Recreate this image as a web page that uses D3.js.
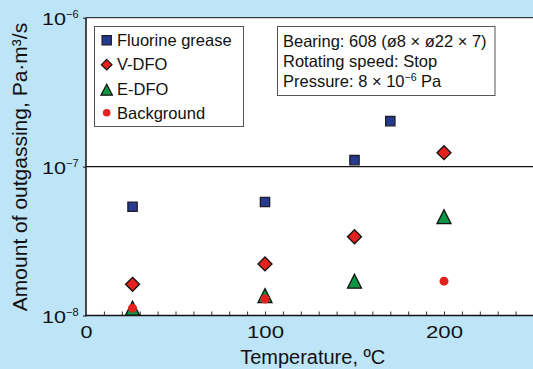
<!DOCTYPE html>
<html>
<head>
<meta charset="utf-8">
<script src="https://cdn.jsdelivr.net/npm/d3@7"></script>
<style>
  html, body { margin: 0; padding: 0; background: #bee4f8; }
  svg { display: block; font-family: "Liberation Sans", Arial, Helvetica, sans-serif; }
</style>
</head>
<body>
<svg id="chart" width="533" height="369"></svg>
<script>
// Outgassing measurements, Pa·m³/s, against temperature in °C
const greaseTemp = [26, 100, 150, 170];
const greaseVal  = [5.37e-8, 5.78e-8, 1.105e-7, 2.02e-7];
const vdfoTemp   = [26, 100, 150, 200];
const vdfoVal    = [1.62e-8, 2.22e-8, 3.38e-8, 1.24e-7];
const edfoTemp   = [26, 100, 150, 200];
const edfoVal    = [1.12e-8, 1.36e-8, 1.70e-8, 4.61e-8];
const bgTemp     = [26, 100, 200];
const bgVal      = [1.12e-8, 1.29e-8, 1.70e-8];

const seriesNames = ["Fluorine grease", "V-DFO", "E-DFO", "Background"];
const xTickLabels = [0, 100, 200];
const yTickValues = [1e-8, 1e-7, 1e-6];
const yTickExponents = ["\u22128", "\u22127", "\u22126"];
const infoLines = [
  "Bearing: 608 (\u00f88 \u00d7 \u00f822 \u00d7 7)",
  "Rotating speed: Stop",
  "Pressure: 8 \u00d7 10"
];

const svg = d3.select("#chart");
const W = 533, H = 369;
const plotLeft = 86, plotTop = 17.7, plotBottom = 315.5;

const x = d3.scaleLinear().domain([0, 250]).range([plotLeft, 533.5]);
const y = d3.scaleLog().domain([1e-8, 1e-6]).range([plotBottom, plotTop]);

const C = {
  bg: "#bee4f8",
  navy: "#263a8f",
  red: "#e3221f",
  green: "#0c9545",
  ink: "#111"
};

// plot area
svg.append("rect").attr("x", plotLeft).attr("y", plotTop)
  .attr("width", W - plotLeft).attr("height", plotBottom - plotTop).attr("fill", "#fff");

// top frame and the 10^-7 reference line
svg.append("line").attr("x1", plotLeft).attr("x2", W).attr("y1", y(1e-6)).attr("y2", y(1e-6))
  .attr("stroke", C.ink).attr("stroke-width", 1);
svg.append("line").attr("x1", plotLeft).attr("x2", W).attr("y1", y(1e-7)).attr("y2", y(1e-7))
  .attr("stroke", C.ink).attr("stroke-width", 1.2);

// x minor ticks (inside)
const xMinor = svg.append("g").attr("transform", `translate(0,${plotBottom})`)
  .call(d3.axisBottom(x).tickValues(d3.range(10, 251, 10)).tickSize(-4).tickSizeOuter(0).tickFormat(""));
xMinor.select(".domain").remove();
xMinor.selectAll(".tick line").attr("stroke", "#333").attr("stroke-width", 1);

// x labels
const xAxis = svg.append("g").attr("transform", `translate(0,${plotBottom})`)
  .call(d3.axisBottom(x).tickValues(xTickLabels).tickSize(0).tickPadding(0).tickFormat(d3.format("d")));
xAxis.select(".domain").remove();
xAxis.selectAll(".tick text")
  .attr("y", 22).attr("dy", null)
  .attr("font-size", 17).attr("fill", C.ink)
  .attr("font-family", "Liberation Sans, Arial, sans-serif")
  .each(function(d) {
    const t = d3.select(this);
    const len = String(d).length;
    t.attr("textLength", len === 1 ? 12 : 37).attr("lengthAdjust", "spacingAndGlyphs");
  });

// y axis with 10^n labels
const yAxis = svg.append("g").attr("transform", `translate(${plotLeft},0)`)
  .call(d3.axisLeft(y).tickValues(yTickValues).tickSize(3).tickSizeOuter(0).tickFormat(""));
yAxis.select(".domain").remove();
yAxis.selectAll(".tick line").attr("stroke", C.ink);
yAxis.selectAll(".tick").each(function(d) {
  const g = d3.select(this);
  g.append("text").attr("x", -44).attr("y", 6.5)
    .attr("font-size", 17).attr("fill", C.ink).attr("text-anchor", "start")
    .attr("textLength", 24).attr("lengthAdjust", "spacingAndGlyphs")
    .text("10");
  g.append("text").attr("x", -20).attr("y", 0)
    .attr("font-size", 11).attr("fill", C.ink).attr("text-anchor", "start")
    .text(yTickExponents[yTickValues.indexOf(d)]);
});

// axis lines
svg.append("line").attr("x1", plotLeft).attr("x2", plotLeft).attr("y1", plotTop).attr("y2", plotBottom + 0.7)
  .attr("stroke", C.ink).attr("stroke-width", 1.5);
svg.append("line").attr("x1", plotLeft).attr("x2", W).attr("y1", plotBottom).attr("y2", plotBottom)
  .attr("stroke", C.ink).attr("stroke-width", 1.5);

// axis titles
svg.append("text").attr("x", 312.7).attr("y", 364).attr("text-anchor", "middle")
  .attr("font-size", 20).attr("fill", C.ink).text("Temperature, \u00baC");
svg.append("text").attr("transform", "translate(27,167) rotate(-90)")
  .attr("text-anchor", "middle").attr("font-size", 21).attr("fill", C.ink)
  .text("Amount of outgassing, Pa\u00b7m\u00b3/s");

// marker shapes, centred on their bounding box
const squarePath = s => `M${-s/2},${-s/2}h${s}v${s}h${-s}Z`;
const diamondPath = r => `M0,${-r}L${r},0L0,${r}L${-r},0Z`;
const trianglePath = (w, h) => `M0,${-h/2}L${w/2},${h/2}L${-w/2},${h/2}Z`;

const pts = (t, v) => t.map((d, i) => ({ t: d, v: v[i] }));
const plot = svg.append("g");

plot.selectAll(".sq").data(pts(greaseTemp, greaseVal)).join("path")
  .attr("transform", d => `translate(${x(d.t)},${y(d.v)})`)
  .attr("d", squarePath(9.3)).attr("fill", C.navy).attr("stroke", "#1b1b2a").attr("stroke-width", 1.3);

plot.selectAll(".dm").data(pts(vdfoTemp, vdfoVal)).join("path")
  .attr("transform", d => `translate(${x(d.t)},${y(d.v)})`)
  .attr("d", diamondPath(7)).attr("fill", C.red).attr("stroke", "#111").attr("stroke-width", 1.3);

plot.selectAll(".tr").data(pts(edfoTemp, edfoVal)).join("path")
  .attr("transform", d => `translate(${x(d.t)},${y(d.v)})`)
  .attr("d", trianglePath(14, 14)).attr("fill", C.green).attr("stroke", "#111").attr("stroke-width", 1.3);

plot.selectAll(".ci").data(pts(bgTemp, bgVal)).join("circle")
  .attr("cx", d => x(d.t)).attr("cy", d => y(d.v)).attr("r", 4.5).attr("fill", C.red);

// legend
const legend = svg.append("g");
legend.append("rect").attr("x", 94.5).attr("y", 26.5).attr("width", 149).attr("height", 100)
  .attr("fill", "#fff").attr("stroke", "#555").attr("stroke-width", 1);
const legRows = [40.3, 64.7, 89.7, 112.7];
const legBase = [45.7, 70.2, 95, 119];
const legMarkers = [
  g => g.append("path").attr("d", squarePath(9.3)).attr("fill", C.navy).attr("stroke", "#1b1b2a").attr("stroke-width", 1.2),
  g => g.append("path").attr("d", diamondPath(5.3)).attr("fill", C.red).attr("stroke", "#111").attr("stroke-width", 1.2),
  g => g.append("path").attr("d", trianglePath(11.5, 11)).attr("fill", C.green).attr("stroke", "#111").attr("stroke-width", 1.2),
  g => g.append("circle").attr("r", 3.8).attr("fill", C.red)
];
seriesNames.forEach((name, i) => {
  const g = legend.append("g").attr("transform", `translate(106.7,${legRows[i]})`);
  legMarkers[i](g);
  legend.append("text").attr("x", 117).attr("y", legBase[i])
    .attr("font-size", 16.5).attr("fill", C.ink).text(name);
});

// test conditions box
const info = svg.append("g");
info.append("rect").attr("x", 277.5).attr("y", 26.5).attr("width", 217.5).attr("height", 69)
  .attr("fill", "#fff").attr("stroke", "#555").attr("stroke-width", 1);
const infoBase = [46.7, 66.8, 87.3];
infoLines.forEach((line, i) => {
  const t = info.append("text").attr("x", 283).attr("y", infoBase[i])
    .attr("font-size", 16.5).attr("fill", C.ink).text(line);
  if (i === 2) {
    t.append("tspan").attr("font-size", 10.5).attr("dy", -6).text("\u22126");
    t.append("tspan").attr("dy", 6).text(" Pa");
  }
});
</script>
</body>
</html>
